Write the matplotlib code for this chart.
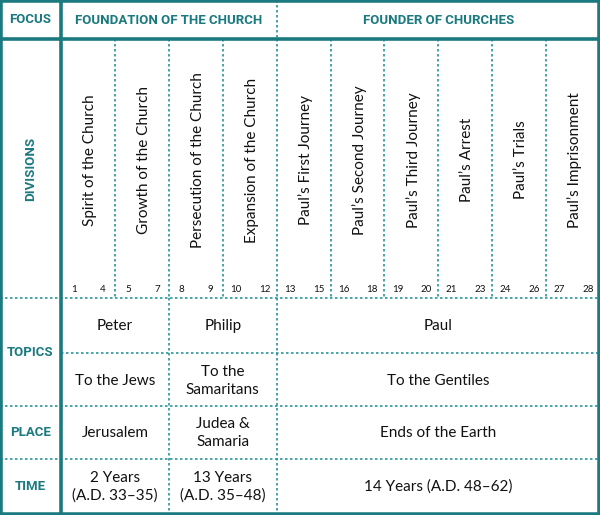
import matplotlib.pyplot as plt

teal = '#1b7a80'
dot = '#2a9599'

focus = [('FOUNDATION OF THE CHURCH', 0, 4), ('FOUNDER OF CHURCHES', 4, 10)]
divisions = ['Spirit of the Church', 'Growth of the Church', 'Persecution of the Church',
             'Expansion of the Church', "Paul\u2019s First Journey", "Paul\u2019s Second Journey",
             "Paul\u2019s Third Journey", "Paul\u2019s Arrest", "Paul\u2019s Trials",
             "Paul\u2019s Imprisonment"]
ch_start = [1, 5, 8, 10, 13, 16, 19, 21, 24, 27]
ch_end = [4, 7, 9, 12, 15, 18, 20, 23, 26, 28]
topics_who = [('Peter', 0, 2), ('Philip', 2, 4), ('Paul', 4, 10)]
topics_to = [('To the Jews', 0, 2), ('To the\nSamaritans', 2, 4), ('To the Gentiles', 4, 10)]
place = [('Jerusalem', 0, 2), ('Judea &\nSamaria', 2, 4), ('Ends of the Earth', 4, 10)]
time = [('2 Years\n(A.D. 33\u201335)', 0, 2), ('13 Years\n(A.D. 35\u201348)', 2, 4),
        ('14 Years (A.D. 48\u201362)', 4, 10)]
row_labels = [('FOCUS', 0, 39), ('DIVISIONS', 39, 298), ('TOPICS', 298, 406),
              ('PLACE', 406, 459), ('TIME', 459, 515)]

x0, W = 61, 600
cw = (W - x0) / 10
def cx(i):
    return x0 + i * cw

fig = plt.figure(figsize=(6, 5.15), dpi=100)
ax = fig.add_axes([0, 0, 1, 1])
ax.set_xlim(0, 600)
ax.set_ylim(515, 0)
ax.axis('off')

hfont = dict(family=['Roboto', 'DejaVu Sans'], fontweight='bold', color=teal, fontsize=9.5)
bfont = dict(family=['Lato', 'DejaVu Sans'], color='#111111')

dkw = dict(color=dot, lw=1.2, ls=(0, (1.5, 1.5)))
# dotted verticals in divisions row
for i in range(1, 10):
    ax.plot([cx(i), cx(i)], [39, 298], **dkw)
ax.plot([cx(4), cx(4)], [0, 39], **dkw)
for i in (2, 4):
    ax.plot([cx(i), cx(i)], [298, 515], **dkw)
# dotted horizontals
ax.plot([0, W], [298, 298], **dkw)
ax.plot([x0, W], [353, 353], **dkw)
ax.plot([0, W], [406, 406], **dkw)
ax.plot([0, W], [459, 459], **dkw)

# solid lines
skw = dict(color=teal, lw=2.6, solid_capstyle='butt')
ax.plot([x0, x0], [0, 515], **skw)
ax.plot([0, W], [39, 39], **skw)
ax.plot([0, W, W, 0, 0], [0, 0, 515, 515, 0], color=teal, lw=4)

for lab, y1, y2 in row_labels:
    ax.text(x0 / 2, (y1 + y2) / 2, lab, ha='center', va='center',
            rotation=90 if lab == 'DIVISIONS' else 0, **hfont)
for lab, a, b in focus:
    ax.text((cx(a) + cx(b)) / 2, 20, lab, ha='center', va='center', **hfont)

for i, d in enumerate(divisions):
    ax.text(cx(i) + cw / 2 + 2, 160, d, rotation=90, ha='center', va='center', fontsize=11, **bfont)
    ax.text(cx(i) + 13, 290, str(ch_start[i]), ha='center', va='center', fontsize=7, **bfont)
    ax.text(cx(i + 1) - 12, 290, str(ch_end[i]), ha='center', va='center', fontsize=7, **bfont)

def row(items, y):
    for lab, a, b in items:
        ax.text((cx(a) + cx(b)) / 2, y, lab, ha='center', va='center', fontsize=11,
                linespacing=1.3, **bfont)

row(topics_who, 326)
row(topics_to, 381)
row(place, 433)
row(time, 487)

fig.savefig('out.png', dpi=100)
